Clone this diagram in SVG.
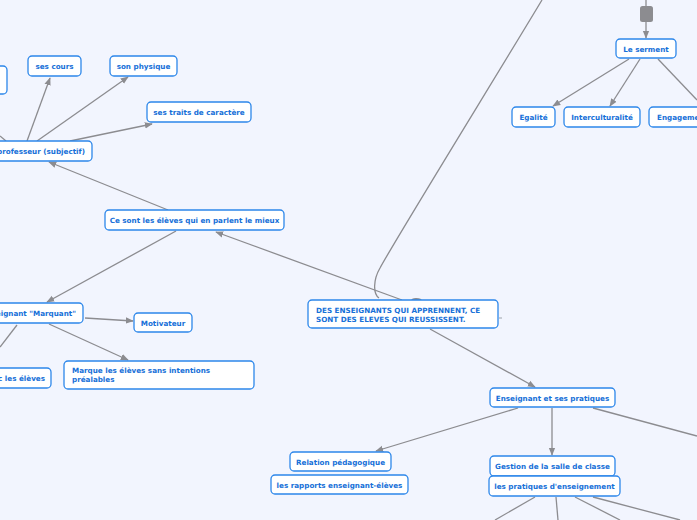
<svg xmlns="http://www.w3.org/2000/svg" width="697" height="520" viewBox="0 0 697 520">
<defs>
<style>
.n rect{fill:#fff;stroke:#2d87ea;stroke-width:1.3}
.n text{font-family:"DejaVu Sans",Verdana,sans-serif;font-weight:bold;font-size:7.2px;fill:#1670d8}
.c path,.c line{stroke:#8c8c90;stroke-width:1.3;fill:none}
.a{marker-end:url(#ah)}
</style>
<marker id="ah" viewBox="0 0 10 10" refX="9" refY="5" markerWidth="8" markerHeight="8" markerUnits="userSpaceOnUse" orient="auto">
<path d="M0,1 L10,5 L0,9 z" fill="#8c8c90"/>
</marker>
</defs>
<rect width="697" height="520" fill="#f2f5fe"/>
<g class="c" id="connectors">
<line class="a" x1="27" y1="141" x2="50" y2="78"/>
<line class="a" x1="37" y1="141" x2="128" y2="77"/>
<line class="a" x1="70" y1="141" x2="152" y2="124"/>
<line x1="0" y1="136" x2="6" y2="141"/>
<line class="a" x1="168" y1="210" x2="49" y2="162"/>
<line class="a" x1="402" y1="300" x2="216" y2="232"/>
<line class="a" x1="176" y1="231" x2="47" y2="302"/>
<line class="a" x1="85" y1="318" x2="133" y2="321"/>
<line class="a" x1="49" y1="324" x2="128" y2="360"/>
<line x1="17" y1="325" x2="0" y2="347"/>
<path d="M379,298 C373,294 373,280 380,268 C395,240 500,70 542,0"/>
<line class="a" x1="430" y1="329" x2="535" y2="387"/>
<line class="a" x1="518" y1="408" x2="376" y2="451"/>
<line class="a" x1="552" y1="408" x2="552" y2="455"/>
<line x1="593" y1="408" x2="697" y2="436"/>
<line x1="535" y1="497" x2="495" y2="520"/>
<line x1="556" y1="497" x2="558" y2="520"/>
<line x1="575" y1="497" x2="620" y2="520"/>
<line x1="593" y1="497" x2="680" y2="520"/>
<line class="a" x1="629" y1="59" x2="553" y2="106"/>
<line class="a" x1="640" y1="59" x2="610" y2="106"/>
<line x1="658" y1="59" x2="697" y2="100"/>
<line x1="646" y1="0" x2="646" y2="7"/>
<line class="a" x1="646" y1="22" x2="646" y2="38"/>
</g>
<g id="collapse-marks" fill="#8c8c90">
<rect x="640" y="6" width="13" height="16" rx="2.5"/>
<path d="M411,301 Q411,298 416,298 Q422,298 422,301 z"/>
<rect x="499" y="317" width="3" height="2" fill="#c8ccd4"/>
</g>
<g class="n" id="n-topleft"><rect x="-20" y="66" width="27" height="28" rx="4"/></g>
<g class="n" id="n-cours"><rect x="28" y="56" width="53" height="20" rx="4"/><text x="54.5" y="69" text-anchor="middle">ses cours</text></g>
<g class="n" id="n-physique"><rect x="110" y="56" width="67" height="20" rx="4"/><text x="143.5" y="69" text-anchor="middle">son physique</text></g>
<g class="n" id="n-traits"><rect x="147" y="102" width="104" height="20" rx="4"/><text x="199" y="115" text-anchor="middle">ses traits de caractère</text></g>
<g class="n" id="n-prof"><rect x="-30" y="141" width="122" height="20" rx="4"/><text x="85" y="154" text-anchor="end">Le professeur (subjectif)</text></g>
<g class="n" id="n-cesont"><rect x="105" y="210" width="179" height="20" rx="4"/><text x="194.5" y="223" text-anchor="middle">Ce sont les élèves qui en parlent le mieux</text></g>
<g class="n" id="n-marquant"><rect x="-40" y="303" width="123" height="20" rx="4"/><text x="76" y="316" text-anchor="end">Enseignant "Marquant"</text></g>
<g class="n" id="n-motiv"><rect x="134" y="313" width="58" height="19" rx="4"/><text x="163" y="326" text-anchor="middle">Motivateur</text></g>
<g class="n" id="n-avec"><rect x="-40" y="368" width="91" height="20" rx="4"/><text x="45" y="381" text-anchor="end">avec les élèves</text></g>
<g class="n" id="n-marque"><rect x="64" y="361" width="190" height="28" rx="4"/><text x="72" y="373">Marque les élèves sans intentions</text><text x="72" y="382">préalables</text></g>
<g class="n" id="n-central"><rect x="308" y="300" width="190" height="28" rx="4"/><text x="316" y="313">DES ENSEIGNANTS QUI APPRENNENT, CE</text><text x="316" y="322">SONT DES ELEVES QUI REUSSISSENT.</text></g>
<g class="n" id="n-pratiques"><rect x="490" y="388" width="125" height="19" rx="4"/><text x="552.5" y="401" text-anchor="middle">Enseignant et ses pratiques</text></g>
<g class="n" id="n-relation"><rect x="290" y="452" width="101" height="19" rx="4"/><text x="340.5" y="465" text-anchor="middle">Relation pédagogique</text></g>
<g class="n" id="n-rapports"><rect x="271" y="475" width="137" height="19" rx="4"/><text x="339.5" y="488" text-anchor="middle">les rapports enseignant-élèves</text></g>
<g class="n" id="n-gestion"><rect x="490" y="456" width="125" height="20" rx="4"/><text x="552.5" y="469" text-anchor="middle">Gestion de la salle de classe</text></g>
<g class="n" id="n-pratens"><rect x="489" y="476" width="131" height="20" rx="4"/><text x="554.5" y="489" text-anchor="middle">les pratiques d'enseignement</text></g>
<g class="n" id="n-serment"><rect x="616" y="39" width="60" height="19" rx="4"/><text x="646" y="52" text-anchor="middle">Le serment</text></g>
<g class="n" id="n-egalite"><rect x="512" y="107" width="43" height="20" rx="4"/><text x="533.5" y="120" text-anchor="middle">Egalité</text></g>
<g class="n" id="n-intercult"><rect x="564" y="107" width="76" height="20" rx="4"/><text x="602" y="120" text-anchor="middle">Interculturalité</text></g>
<g class="n" id="n-engagement"><rect x="649" y="107" width="70" height="20" rx="4"/><text x="657" y="120">Engagement</text></g>
</svg>
